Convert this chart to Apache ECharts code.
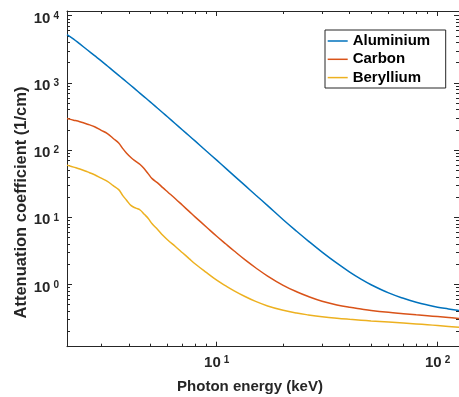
<!DOCTYPE html>
<html>
<head>
<meta charset="utf-8">
<script src="https://cdn.jsdelivr.net/npm/echarts@6/dist/echarts.min.js"></script>
<style>html,body{margin:0;padding:0;background:#fff}#c{width:459px;height:397px}</style>
</head>
<body>
<div id="c"></div>
<script>
// ---- data ----
const energy = [2.1, 2.25, 2.4, 2.6, 2.8, 3.0, 3.2, 3.4, 3.6, 3.75, 3.9, 4.1, 4.3, 4.5, 4.7, 4.9,
  5.1, 5.4, 5.7, 6.0, 6.5, 7, 7.5, 8, 9, 10, 11, 12, 13.5, 15, 17, 20, 23, 26, 30, 35, 40, 45,
  50, 60, 70, 80, 90, 100, 112, 125];
const aluminium = [5250, 4495, 3801, 3086, 2545, 2127, 1785, 1514, 1296, 1160, 1042, 908, 795, 700, 620, 552,
  493, 419, 360, 311, 247, 199.5, 163.6, 135.8, 96.3, 70.8, 53.5, 41.4, 29.3, 21.5, 14.9, 9.2, 6.2, 4.43, 3.04, 2.078, 1.534, 1.205,
  0.993, 0.750, 0.623, 0.545, 0.495, 0.460, 0.4335, 0.409];
const carbon = [295, 279, 264, 243, 223, 197, 176, 149, 128, 106, 90.7, 77, 68.1, 61, 52.6, 44.3,
  37.6, 32.5, 27.6, 23.8, 18.9, 15.1, 12.25, 10.07, 7.12, 5.22, 4.0, 3.149, 2.302, 1.776, 1.336, 0.972, 0.780, 0.663, 0.564, 0.496, 0.457, 0.432,
  0.412, 0.386, 0.3685, 0.354, 0.343, 0.333, 0.3224, 0.3123];
const beryllium = [59.8, 55.8, 52.3, 47.4, 43.0, 38.2, 34.3, 29.6, 25.8, 21.2, 18.1, 14.9, 13.7, 12.85, 11.1, 9.6,
  8.0, 6.6, 5.4, 4.6, 3.68, 2.97, 2.43, 2.02, 1.50, 1.16, 0.953, 0.806, 0.657, 0.56, 0.4796, 0.413, 0.3755, 0.3526, 0.3312, 0.3143, 0.3031, 0.2946,
  0.2872, 0.2759, 0.2667, 0.2589, 0.2517, 0.2454, 0.238, 0.231];
const seriesNames = ['Aluminium', 'Carbon', 'Beryllium'];
const xMajorTicks = [10, 100];
const xMinorTicks = [3, 4, 5, 6, 7, 8, 9, 20, 30, 40, 50, 60, 70, 80, 90];
const yMajorTicks = [1, 10, 100, 1000, 10000];
const yMinorTicks = [0.2, 0.3, 0.4, 0.5, 0.6, 0.7, 0.8, 0.9, 2, 3, 4, 5, 6, 7, 8, 9,
  20, 30, 40, 50, 60, 70, 80, 90, 200, 300, 400, 500, 600, 700, 800, 900,
  2000, 3000, 4000, 5000, 6000, 7000, 8000, 9000];
const xTitle = 'Photon energy (keV)';
const yTitle = 'Attenuation coefficient (1/cm)';

// ---- chart ----
const FONT = 'Liberation Sans';
const AX = '#262626';
const colors = ['#0072BD', '#D95319', '#EDB120'];
const X_MIN = 2.1, X_MAX = 125, Y_MIN = 0.1187, Y_MAX = 11750;

const powLabel = {
  formatter: v => '{b|10}{s|' + Math.round(Math.log10(v)) + '}',
  rich: {
    b: { fontFamily: FONT, fontSize: 15, fontWeight: 'bold', color: AX, lineHeight: 15, verticalAlign: 'bottom' },
    s: { fontFamily: FONT, fontSize: 10, fontWeight: 'bold', color: AX, lineHeight: 10, verticalAlign: 'top', padding: [0, 0, 9.5, 3] }
  }
};

function xAxisDef(pos, ticks, len, showLine, label) {
  return {
    type: 'log', position: pos, min: X_MIN, max: X_MAX, logBase: 10,
    axisLine: { show: showLine, onZero: false, lineStyle: { color: AX, width: 1 } },
    axisTick: { show: true, inside: true, length: len, customValues: ticks, lineStyle: { color: AX, width: 1 } },
    axisLabel: label ? Object.assign({ show: true, customValues: ticks, margin: 8.8, showMinLabel: true, showMaxLabel: true }, powLabel)
                     : { show: false },
    splitLine: { show: false }, minorTick: { show: false }, minorSplitLine: { show: false }
  };
}
function yAxisDef(pos, ticks, len, showLine, label) {
  return {
    type: 'log', position: pos, min: Y_MIN, max: Y_MAX, logBase: 10,
    axisLine: { show: showLine, onZero: false, lineStyle: { color: AX, width: 1 } },
    axisTick: { show: true, inside: true, length: len, customValues: ticks, lineStyle: { color: AX, width: 1 } },
    axisLabel: label ? Object.assign({ show: true, customValues: ticks, margin: 8, padding: [6, 0, 0, 0] }, powLabel)
                     : { show: false },
    splitLine: { show: false }, minorTick: { show: false }, minorSplitLine: { show: false }
  };
}

const seriesData = [aluminium, carbon, beryllium];
const chart = echarts.init(document.getElementById('c'), null, { renderer: 'canvas' });
chart.setOption({
  animation: false,
  backgroundColor: '#fff',
  textStyle: { fontFamily: FONT },
  grid: { left: 67, top: 11, width: 393, height: 335.7, containLabel: false },
  xAxis: [
    xAxisDef('bottom', xMajorTicks, 5, true, true),
    xAxisDef('bottom', xMinorTicks, 3, false, false),
    xAxisDef('top', xMajorTicks, 5, true, false),
    xAxisDef('top', xMinorTicks, 3, false, false)
  ],
  yAxis: [
    yAxisDef('left', yMajorTicks, 5, true, true),
    yAxisDef('left', yMinorTicks, 3, false, false),
    yAxisDef('right', yMajorTicks, 5, true, false),
    yAxisDef('right', yMinorTicks, 3, false, false)
  ],
  legend: {
    orient: 'vertical', left: 325, top: 30,
    padding: [2, 15.5, 1.4, 2.7], itemGap: 0.3,
    itemWidth: 20, itemHeight: 1.5, icon: 'rect',
    backgroundColor: '#fff', borderColor: AX, borderWidth: 1, borderRadius: 0,
    textStyle: { fontFamily: FONT, fontSize: 15, fontWeight: 'bold', color: '#000', lineHeight: 18 },
    data: seriesNames
  },
  graphic: [
    { type: 'text', x: 250, y: 386.5, silent: true,
      style: { text: xTitle, fill: AX, font: 'bold 15px "' + FONT + '"', textAlign: 'center', textVerticalAlign: 'middle' } },
    { type: 'text', x: 21, y: 202.5, rotation: Math.PI / 2, silent: true,
      style: { text: yTitle, fill: AX, font: 'bold 16.5px "' + FONT + '"', textAlign: 'center', textVerticalAlign: 'middle' } }
  ],
  series: seriesNames.map((name, k) => ({
    name: name, type: 'line', xAxisIndex: 0, yAxisIndex: 0,
    data: energy.map((e, i) => [e, seriesData[k][i]]),
    showSymbol: false, symbol: 'none', smooth: 0.4,
    lineStyle: { color: colors[k], width: 1.5 }, itemStyle: { color: colors[k] }
  }))
});
</script>
</body>
</html>
